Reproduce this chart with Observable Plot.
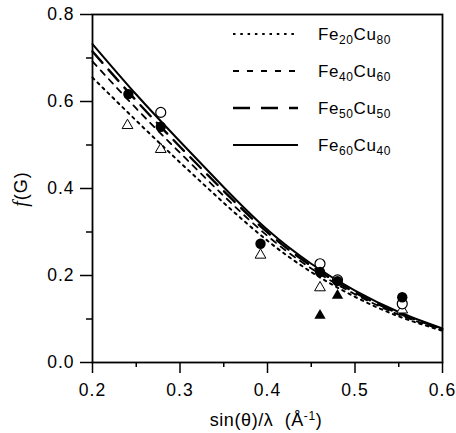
<!DOCTYPE html>
<html><head><meta charset="utf-8">
<script src="https://cdn.jsdelivr.net/npm/d3@7"></script>
<script src="https://cdn.jsdelivr.net/npm/@observablehq/plot@0.6"></script>
<style>
body{margin:0;background:#fff;}
#wrap{width:456px;height:433px;}
</style></head><body><div id="wrap"></div>
<script>
// Curve samples
const sGrid     = [0.20, 0.25, 0.30, 0.35, 0.40, 0.45, 0.50, 0.55, 0.60];
const fe20cu80  = [0.655, 0.556, 0.460, 0.367, 0.280, 0.208, 0.151, 0.106, 0.073];
const fe40cu60  = [0.692, 0.584, 0.482, 0.383, 0.291, 0.216, 0.157, 0.110, 0.075];
const fe50cu50  = [0.715, 0.602, 0.496, 0.394, 0.299, 0.222, 0.161, 0.113, 0.077];
const fe60cu40  = [0.732, 0.616, 0.508, 0.403, 0.305, 0.227, 0.165, 0.116, 0.078];

// Measured points
const filledCircleX = [0.241, 0.278, 0.392, 0.460, 0.480, 0.554];
const filledCircleY = [0.617, 0.542, 0.273, 0.208, 0.187, 0.150];
const openCircleX   = [0.278, 0.460, 0.480, 0.554];
const openCircleY   = [0.575, 0.227, 0.190, 0.135];
const openTriX      = [0.240, 0.278, 0.392, 0.460, 0.554];
const openTriY      = [0.545, 0.490, 0.247, 0.172, 0.121];
const filledTriX    = [0.460, 0.480];
const filledTriY    = [0.108, 0.154];

const xMajor = [0.2, 0.3, 0.4, 0.5, 0.6];
const xMinor = [0.25, 0.35, 0.45, 0.55];
const yMajor = [0.0, 0.2, 0.4, 0.6, 0.8];
const yMinor = [0.1, 0.3, 0.5, 0.7];

const seriesNames = [["20","80"],["40","60"],["50","50"],["60","40"]];
const seriesVals  = [fe20cu80, fe40cu60, fe50cu50, fe60cu40];
const dashes = ["2.5,4.5", "6,6", "15,9", null];
const legendDashes = ["2.5,4.8", "6,8", "17,11", null];
const widths = [2, 1.8, 2.4, 2];

const pts = (xs, ys) => xs.map((x, i) => ({x, y: ys[i]}));
const curve = vals => sGrid.map((s, i) => ({s, f: vals[i]}));

const lineMarks = seriesVals.map((v, i) => Plot.line(curve(v), {
  x: "s", y: "f", curve: "natural", stroke: "black",
  strokeWidth: widths[i], strokeDasharray: dashes[i] || undefined
}));

const ff = "'Liberation Sans', Arial, sans-serif";

const plot = Plot.plot({
  width: 456, height: 433,
  marginLeft: 92, marginRight: 14, marginTop: 14, marginBottom: 71,
  style: {fontFamily: ff, fontSize: "17.5px", color: "black", background: "white", letterSpacing: "1px"},
  x: {domain: [0.2, 0.6]},
  y: {domain: [0, 0.8]},
  marks: [
    Plot.axisX({ticks: xMajor, tickSize: 11, tickPadding: 10, tickFormat: d => d.toFixed(1), label: null, strokeWidth: 1.5}),
    Plot.axisX({ticks: xMinor, tickSize: 5, tickFormat: () => "", label: null, strokeWidth: 1.5}),
    Plot.axisY({ticks: yMajor, tickSize: 12, tickPadding: 6, tickFormat: d => d.toFixed(1), label: null, strokeWidth: 1.5}),
    Plot.axisY({ticks: yMinor, tickSize: 6, tickFormat: () => "", label: null, strokeWidth: 1.5}),
    ...lineMarks,
    Plot.dot(pts(openTriX, openTriY), {x: "x", y: "y", symbol: "triangle", r: 4, fill: "white", stroke: "black", strokeWidth: 1}),
    Plot.dot(pts(openCircleX, openCircleY), {x: "x", y: "y", r: 5, fill: "white", stroke: "black", strokeWidth: 1.2}),
    Plot.dot(pts(filledCircleX, filledCircleY), {x: "x", y: "y", r: 5.2, fill: "black", stroke: "none"}),
    Plot.dot(pts(filledTriX, filledTriY), {x: "x", y: "y", symbol: "triangle", r: 4.2, fill: "black", stroke: "none"}),
    Plot.frame({stroke: "black", strokeWidth: 1.8})
  ]
});
document.getElementById("wrap").appendChild(plot);

const svg = d3.select(plot);

// Y label
const yl = svg.append("text").attr("transform", "translate(27,189) rotate(-90)")
  .attr("text-anchor", "middle").attr("font-family", ff).attr("font-size", 18).attr("fill", "black");
yl.append("tspan").attr("font-style", "italic").attr("font-family", "'Liberation Serif', serif").attr("font-size", 20).text("f");
yl.append("tspan").text("(G)");

// X label
const xl = svg.append("text").attr("x", 266).attr("y", 426).attr("text-anchor", "middle")
  .attr("font-family", ff).attr("font-size", 18).attr("letter-spacing", "0.6px").attr("fill", "black");
xl.append("tspan").text("sin(θ)/λ  (Å");
xl.append("tspan").attr("font-size", 12).attr("dy", -6).text("-1");
xl.append("tspan").attr("dy", 6).text(")");

// Legend
const lg = svg.append("g");
seriesNames.forEach((nm, i) => {
  const yy = 34 + i * 37;
  lg.append("line").attr("x1", 233).attr("x2", 298).attr("y1", yy).attr("y2", yy)
    .attr("stroke", "black").attr("stroke-width", widths[i])
    .attr("stroke-dasharray", legendDashes[i] || null);
  const t = lg.append("text").attr("x", 318).attr("y", yy + 6).attr("text-anchor", "start")
    .attr("font-family", ff).attr("font-size", 17).attr("letter-spacing", "0.6px").attr("fill", "black");
  t.append("tspan").text("Fe");
  t.append("tspan").attr("font-size", 12).attr("dy", 4).text(nm[0]);
  t.append("tspan").attr("dy", -4).text("Cu");
  t.append("tspan").attr("font-size", 12).attr("dy", 4).text(nm[1]);
});
</script></body></html>
